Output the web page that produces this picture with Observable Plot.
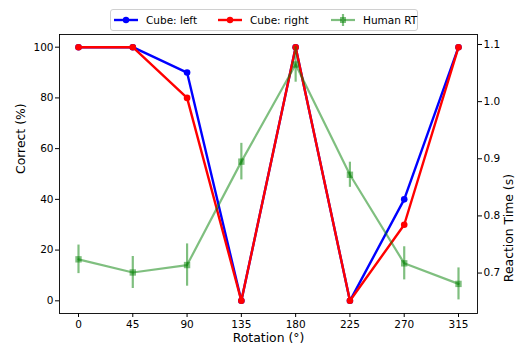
<!DOCTYPE html>
<html>
<head>
<meta charset="utf-8">
<script src="https://cdn.jsdelivr.net/npm/d3@7"></script>
<script src="https://cdn.jsdelivr.net/npm/@observablehq/plot@0.6"></script>
<style>
  html, body { margin: 0; padding: 0; background: #fff; }
  #wrap { position: relative; width: 520px; height: 345px; font-family: "DejaVu Sans", sans-serif; }
  #legend { position: absolute; left: 110px; top: 9px; width: 308px; height: 22px;
    border: 1px solid #d0d0d0; border-radius: 3px; background: rgba(255,255,255,0.8);
    font-size: 10.5px; color: #000; box-sizing: border-box; }
  .item { position: absolute; top: 0; height: 20px; display: flex; align-items: center; white-space: nowrap; }
  .item svg { margin-right: 8px; }
</style>
</head>
<body>
<div id="wrap"></div>
<script>
// ---- data ----
const rotations = [0, 45, 90, 135, 180, 225, 270, 315];
const cubeLeft  = [100, 100, 90, 0, 100, 0, 40, 100];
const cubeRight = [100, 100, 80, 0, 100, 0, 30, 100];
const humanRT   = [0.724, 0.701, 0.714, 0.895, 1.065, 0.872, 0.717, 0.681];
const humanErr  = [0.025, 0.028, 0.037, 0.032, 0.031, 0.022, 0.029, 0.028];
const leftTicks = [0, 20, 40, 60, 80, 100];
const rightTicks = [0.7, 0.8, 0.9, 1.0, 1.1];
const rightTickLabels = ["0.7", "0.8", "0.9", "1.0", "1.1"];
const seriesNames = ["Cube: left", "Cube: right", "Human RT"];
const seriesColors = ["#0000ff", "#ff0000", "#008000"];

// ---- twin-axis mapping (right axis domain onto left scale) ----
const leftDomain = [-5, 105];
const rightDomain = [0.6292, 1.1175];
const toLeft = v => leftDomain[0] + (v - rightDomain[0]) / (rightDomain[1] - rightDomain[0]) * (leftDomain[1] - leftDomain[0]);

const leftRows = rotations.map((r, i) => ({r, v: cubeLeft[i]}));
const rightRows = rotations.map((r, i) => ({r, v: cubeRight[i]}));
const rtRows = rotations.map((r, i) => ({
  r, v: toLeft(humanRT[i]), lo: toLeft(humanRT[i] - humanErr[i]), hi: toLeft(humanRT[i] + humanErr[i])
}));

const plot = Plot.plot({
  width: 520,
  height: 345,
  marginLeft: 59,
  marginRight: 43,
  marginTop: 34,
  marginBottom: 32,
  style: {fontFamily: "DejaVu Sans, sans-serif", fontSize: "10.5px", color: "#000", background: "#fff"},
  x: {domain: [-15.75, 330.75]},
  y: {domain: leftDomain},
  marks: [
    Plot.frame({stroke: "#000", strokeWidth: 0.9}),
    Plot.axisX(rotations, {tickSize: 4, tickPadding: 3, label: null, fontSize: "10.5px"}),
    Plot.axisY(leftTicks, {anchor: "left", tickSize: 4, tickPadding: 2, label: null, fontSize: "10.5px"}),
    Plot.axisY(rightTicks.map(toLeft), {anchor: "right", tickSize: 4, tickPadding: 2, label: null, fontSize: "10.5px",
      tickFormat: (d, i) => rightTickLabels[i]}),
    Plot.line(leftRows, {x: "r", y: "v", stroke: seriesColors[0], strokeWidth: 2.4}),
    Plot.dot(leftRows, {x: "r", y: "v", fill: seriesColors[0], r: 3.3}),
    Plot.line(rightRows, {x: "r", y: "v", stroke: seriesColors[1], strokeWidth: 2.4}),
    Plot.dot(rightRows, {x: "r", y: "v", fill: seriesColors[1], r: 3.3}),
    Plot.line(rtRows, {x: "r", y: "v", stroke: seriesColors[2], strokeOpacity: 0.5, strokeWidth: 2.2}),
    Plot.ruleX(rtRows, {x: "r", y1: "lo", y2: "hi", stroke: seriesColors[2], strokeOpacity: 0.5, strokeWidth: 2.2}),
    Plot.dot(rtRows, {x: "r", y: "v", symbol: "square", r: 3.6, fill: seriesColors[2], fillOpacity: 0.5, stroke: "none"}),
    Plot.text(["Rotation (°)"], {frameAnchor: "bottom", dy: 25, lineAnchor: "middle", fontSize: "12.4px", fill: "#000"}),
    Plot.text(["Correct (%)"], {frameAnchor: "left", dx: -38, rotate: -90, fontSize: "12.4px", fill: "#000"}),
    Plot.text(["Reaction Time (s)"], {frameAnchor: "right", dx: 32, rotate: -90, fontSize: "12.4px", fill: "#000"})
  ]
});

const wrap = document.getElementById("wrap");
wrap.appendChild(plot);

// ---- legend ----
const legend = document.createElement("div");
legend.id = "legend";
const lefts = [3, 107, 220];
seriesNames.forEach((name, i) => {
  const it = document.createElement("div");
  it.className = "item";
  it.style.left = lefts[i] + "px";
  const c = seriesColors[i];
  let sym;
  if (i < 2) {
    sym = `<svg width="24" height="10"><line x1="0" y1="5" x2="24" y2="5" stroke="${c}" stroke-width="2.4"/><circle cx="12" cy="5" r="3.2" fill="${c}"/></svg>`;
  } else {
    sym = `<svg width="24" height="14"><g opacity="0.5"><line x1="0" y1="7" x2="24" y2="7" stroke="${c}" stroke-width="2.2"/><line x1="12" y1="1" x2="12" y2="13" stroke="${c}" stroke-width="2.2"/></g><rect x="9" y="4" width="6" height="6" fill="${c}" fill-opacity="0.5"/></svg>`;
  }
  it.innerHTML = sym + `<span>${name}</span>`;
  legend.appendChild(it);
});
wrap.appendChild(legend);
</script>
</body>
</html>
